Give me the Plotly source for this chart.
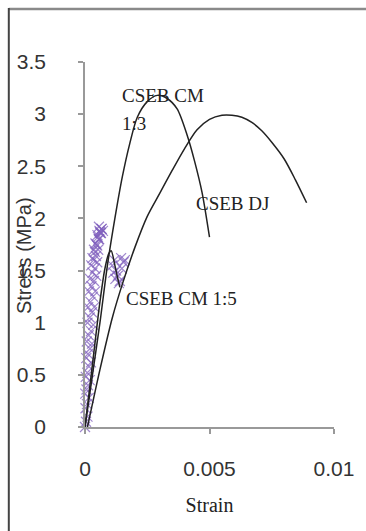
import plotly.graph_objects as go

# CSEB CM 1:3 curve
cm13_strain = [0, 0.0003, 0.0006, 0.0009, 0.0012, 0.0015, 0.0018, 0.0021, 0.0025, 0.0029, 0.0033, 0.0037, 0.0041, 0.0044, 0.0047, 0.005]
cm13_stress = [0, 0.50, 1.00, 1.55, 2.00, 2.40, 2.72, 2.97, 3.12, 3.18, 3.15, 3.05, 2.80, 2.55, 2.25, 1.82]

# CSEB DJ curve
dj_strain = [0.0001, 0.0006, 0.0011, 0.0015, 0.0020, 0.0025, 0.0030, 0.0035, 0.0040, 0.0045, 0.0050, 0.0055, 0.0059, 0.0063, 0.0067, 0.0071, 0.0075, 0.0080, 0.00845, 0.0089]
dj_stress = [0, 0.55, 1.05, 1.37, 1.72, 2.02, 2.24, 2.46, 2.67, 2.85, 2.95, 2.99, 2.99, 2.97, 2.92, 2.84, 2.73, 2.57, 2.37, 2.15]

# CSEB CM 1:5 curve
cm15_strain = [0, 0.0003, 0.0006, 0.0008, 0.00095, 0.00105, 0.0012, 0.0013, 0.0014]
cm15_stress = [0, 0.60, 1.20, 1.52, 1.66, 1.69, 1.55, 1.44, 1.34]

# CSEB CM 1:5 measured points (purple crosses)
pts_strain = [0.00000, 0.00004, 0.00010, 0.00002, 0.00008, 0.00015, 0.00001, 0.00006, 0.00012, 0.00019,
              0.00003, 0.00009, 0.00016, 0.00024, 0.00005, 0.00012, 0.00020, 0.00028, 0.00007, 0.00015,
              0.00024, 0.00033, 0.00010, 0.00019, 0.00028, 0.00037, 0.00013, 0.00022, 0.00032, 0.00041,
              0.00016, 0.00026, 0.00036, 0.00045, 0.00020, 0.00030, 0.00040, 0.00049, 0.00025, 0.00035,
              0.00044, 0.00053, 0.00030, 0.00040, 0.00049, 0.00057, 0.00036, 0.00046, 0.00055, 0.00062,
              0.00042, 0.00052, 0.00060, 0.00067, 0.00050, 0.00058, 0.00066, 0.00072, 0.00056, 0.00064,
              0.00110, 0.00118, 0.00125, 0.00132, 0.00140, 0.00148, 0.00155, 0.00160, 0.00122, 0.00136, 0.00114, 0.00145]
pts_stress = [0.00, 0.05, 0.10, 0.18, 0.22, 0.28, 0.32, 0.36, 0.40, 0.45,
              0.48, 0.52, 0.58, 0.62, 0.66, 0.70, 0.75, 0.80, 0.82, 0.88,
              0.92, 0.98, 1.00, 1.05, 1.10, 1.15, 1.15, 1.20, 1.25, 1.30,
              1.30, 1.35, 1.40, 1.45, 1.42, 1.48, 1.52, 1.58, 1.55, 1.60,
              1.64, 1.70, 1.62, 1.68, 1.74, 1.80, 1.70, 1.75, 1.80, 1.86,
              1.76, 1.82, 1.87, 1.90, 1.84, 1.88, 1.90, 1.88, 1.92, 1.86,
              1.55, 1.60, 1.50, 1.45, 1.40, 1.52, 1.58, 1.60, 1.42, 1.38, 1.48, 1.62]

labels = [
    ("CSEB CM", 0.00139, 3.18),
    ("1:3", 0.00139, 2.91),
    ("CSEB DJ", 0.00437, 2.14),
    ("CSEB CM 1:5", 0.00155, 1.23),
]

fig = go.Figure()
fig.add_trace(go.Scatter(x=pts_strain, y=pts_stress, mode="markers", cliponaxis=False,
                         marker=dict(symbol="x-thin", size=10, line=dict(width=1.2, color="rgba(128,96,190,0.75)")),
                         showlegend=False))
for xs, ys in [(cm13_strain, cm13_stress), (dj_strain, dj_stress), (cm15_strain, cm15_stress)]:
    fig.add_trace(go.Scatter(x=xs, y=ys, mode="lines", line=dict(color="#222222", width=1.5, shape="spline", smoothing=0.8),
                             showlegend=False))

for txt, x, y in labels:
    fig.add_annotation(x=x, y=y, text=txt, showarrow=False, xanchor="left", yanchor="middle",
                       font=dict(family="Liberation Serif", size=19, color="#222222"))

# y axis title as rotated text
fig.add_annotation(xref="paper", yref="paper", x=-0.245, y=0.471, text="Stress (MPa)", textangle=-90,
                   showarrow=False, xanchor="center", yanchor="middle",
                   font=dict(family="Liberation Sans", size=20, color="#333333"))

# outer frame lines (top gray, left dark)
fig.add_shape(type="line", xref="paper", yref="paper", x0=-0.306, x1=1.2, y0=1.145, y1=1.145,
              line=dict(color="#8a8a8a", width=2.5))
fig.add_shape(type="line", xref="paper", yref="paper", x0=-0.306, x1=-0.306, y0=1.148, y1=-0.4,
              line=dict(color="#444444", width=2))

axis_common = dict(showgrid=False, zeroline=False, showline=True, linecolor="#999999", linewidth=1.5,
                   ticks="outside", ticklen=5, tickcolor="#999999", tickwidth=1.5,
                   tickfont=dict(family="Liberation Sans", size=21, color="#333333"))
fig.update_xaxes(range=[0, 0.01], tickvals=[0, 0.005, 0.01], ticktext=["0", "0.005", "0.01"],
                 ticklabelstandoff=17,
                 title=dict(text="Strain", font=dict(family="Liberation Serif", size=20, color="#222222"), standoff=19),
                 **axis_common)
fig.update_yaxes(range=[0, 3.5], tickvals=[0, 0.5, 1, 1.5, 2, 2.5, 3, 3.5],
                 ticktext=["0", "0.5", "1", "1.5", "2", "2.5", "3", "3.5"],
                 ticklabelstandoff=28, **axis_common)
fig.update_layout(width=366, height=531, margin=dict(l=85, r=29, t=62, b=104),
                  paper_bgcolor="white", plot_bgcolor="white")
fig.write_html("out.html")
